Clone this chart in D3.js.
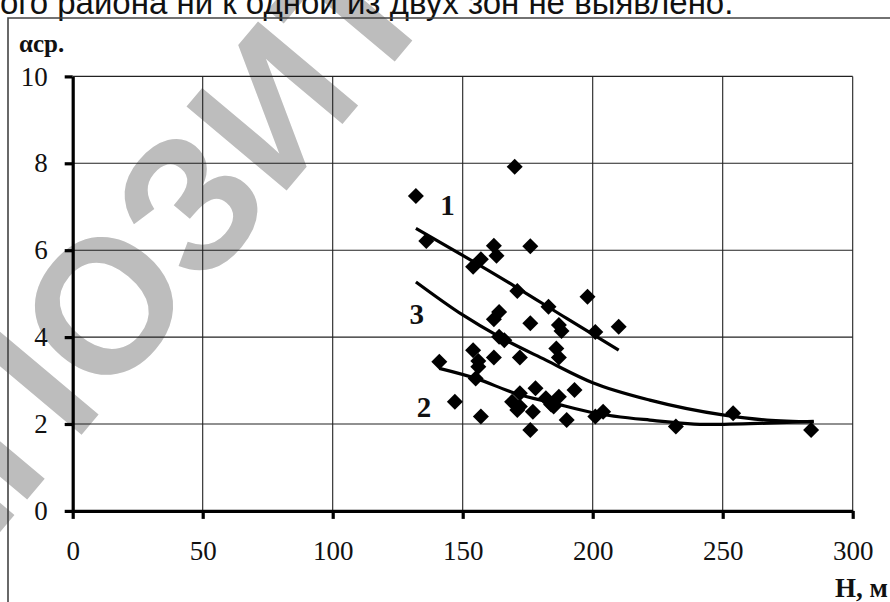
<!DOCTYPE html>
<html>
<head>
<meta charset="utf-8">
<script src="https://cdn.jsdelivr.net/npm/d3@7/dist/d3.min.js"></script>
<style>
body { margin: 0; background: #fff; }
svg { display: block; }
</style>
</head>
<body>
<div id="plot"></div>
<script>
var w = 890;
var h = 602;

// measured points: depth H (m) and alpha
var pointH = [132, 170, 136, 162, 163, 176, 157, 154, 171, 198,
              183, 164, 162, 176, 187, 188, 201, 210, 164, 166,
              186, 187, 172, 162, 154, 156, 141, 155, 147, 157,
              172, 178, 169, 171, 177, 182, 187, 185, 193, 190,
              176, 204, 201, 232, 254, 284, 172, 184, 156];
var pointA = [7.25, 7.92, 6.21, 6.10, 5.87, 6.09, 5.79, 5.62, 5.06, 4.93,
              4.70, 4.58, 4.41, 4.32, 4.28, 4.14, 4.12, 4.24, 4.01, 3.93,
              3.74, 3.53, 3.53, 3.53, 3.70, 3.45, 3.43, 3.05, 2.51, 2.17,
              2.71, 2.82, 2.51, 2.32, 2.28, 2.59, 2.63, 2.40, 2.78, 2.09,
              1.86, 2.28, 2.17, 1.94, 2.25, 1.86, 2.40, 2.45, 3.32];

// trend lines
var curve1H = [132, 150, 170, 190, 210];
var curve1A = [6.50, 5.88, 5.17, 4.43, 3.70];
var curve2H = [141, 155, 170, 185, 200, 222, 245, 267, 285];
var curve2A = [3.28, 3.05, 2.71, 2.48, 2.26, 2.09, 1.99, 2.02, 2.06];
var curve3H = [132, 150, 164, 182, 200, 222, 250, 267, 285];
var curve3A = [5.27, 4.51, 4.01, 3.47, 2.95, 2.55, 2.21, 2.09, 2.05];

var curveNames = ["1", "2", "3"];
var labelH = [144.2, 135.1, 132.3];
var labelA = [7.04, 2.39, 4.54];

var xTicks = [0, 50, 100, 150, 200, 250, 300];
var yTicks = [0, 2, 4, 6, 8, 10];

var xScale = d3.scaleLinear()
	.domain([0, 300])
	.range([72.7, 852.7]);

var yScale = d3.scaleLinear()
	.domain([0, 10])
	.range([510.9, 76.4]);

var serif = "'Liberation Serif', 'Times New Roman', serif";

var svg = d3.select("#plot").append("svg").attr("width", w).attr("height", h);

svg.append("rect")
	.attr("width", w)
	.attr("height", h)
	.attr("fill", "#fff");

// watermark
var wmSize = 190;
var wm = svg.append("text")
	.text("РЕПОЗИТОРИЙ")
	.attr("font-family", "'Liberation Sans', Arial, sans-serif")
	.attr("font-weight", "bold")
	.attr("font-size", wmSize)
	.attr("letter-spacing", 0)
	.attr("fill", "#bdbdbd");
var ext = wm.node().getExtentOfChar(3);
var cx = ext.x + ext.width / 2;
var cy = -0.36 * wmSize;
wm.attr("transform", "translate(102,304) rotate(-50) translate(" + (-cx) + "," + (-cy) + ")");

// cut text line of the page above the figure
svg.append("text")
	.attr("x", 0)
	.attr("y", 14)
	.attr("font-family", "'Liberation Sans', Arial, sans-serif")
	.attr("font-size", 33)
	.attr("fill", "#111")
	.text("ого района ни к одной из двух зон не выявлено.");

// frame
svg.append("path")
	.attr("d", "M8," + h + "V18H" + w)
	.attr("fill", "none")
	.attr("stroke", "#444")
	.attr("stroke-width", 1.6);

// grid
svg.selectAll(".hgrid")
	.data(yTicks.slice(1))
	.enter()
	.append("line")
	.attr("class", "hgrid")
	.attr("x1", xScale(0))
	.attr("x2", xScale(300))
	.attr("y1", function(d) { return yScale(d); })
	.attr("y2", function(d) { return yScale(d); })
	.attr("stroke", "#222")
	.attr("stroke-width", 1.1);

svg.selectAll(".vgrid")
	.data(xTicks.slice(1))
	.enter()
	.append("line")
	.attr("class", "vgrid")
	.attr("y1", yScale(0))
	.attr("y2", yScale(10))
	.attr("x1", function(d) { return xScale(d); })
	.attr("x2", function(d) { return xScale(d); })
	.attr("stroke", "#222")
	.attr("stroke-width", 1.1);

// axes
var xAxis = d3.axisBottom(xScale).tickValues(xTicks).tickSize(8).tickSizeOuter(0).tickPadding(22);
var yAxis = d3.axisLeft(yScale).tickValues(yTicks).tickSize(8).tickSizeOuter(0).tickPadding(17);

var gx = svg.append("g")
	.attr("transform", "translate(0," + yScale(0) + ")")
	.call(xAxis);
var gy = svg.append("g")
	.attr("transform", "translate(" + xScale(0) + ",0)")
	.call(yAxis);

[gx, gy].forEach(function(g) {
	g.select(".domain").attr("stroke", "#000").attr("stroke-width", 3.2);
	g.selectAll(".tick line").attr("stroke", "#000").attr("stroke-width", 3.2);
	g.selectAll(".tick text")
		.attr("font-family", serif)
		.attr("font-size", 27)
		.attr("fill", "#111");
});

// trend lines
var line = d3.line()
	.x(function(d) { return xScale(d[0]); })
	.y(function(d) { return yScale(d[1]); })
	.curve(d3.curveMonotoneX);

var curves = [d3.zip(curve1H, curve1A), d3.zip(curve2H, curve2A), d3.zip(curve3H, curve3A)];

svg.selectAll(".trend")
	.data(curves)
	.enter()
	.append("path")
	.attr("class", "trend")
	.attr("d", line)
	.attr("fill", "none")
	.attr("stroke", "#000")
	.attr("stroke-width", 3.2);

// points
var diamond = d3.symbol().type(d3.symbolSquare).size(128);

svg.selectAll(".pt")
	.data(d3.zip(pointH, pointA))
	.enter()
	.append("path")
	.attr("class", "pt")
	.attr("d", diamond)
	.attr("transform", function(d) {
		return "translate(" + xScale(d[0]) + "," + yScale(d[1]) + ") rotate(45)";
	})
	.attr("fill", "#000");

// curve numbers
svg.selectAll(".cname")
	.data(curveNames)
	.enter()
	.append("text")
	.attr("class", "cname")
	.attr("x", function(d, i) { return xScale(labelH[i]); })
	.attr("y", function(d, i) { return yScale(labelA[i]); })
	.attr("dy", "0.35em")
	.attr("text-anchor", "middle")
	.attr("font-family", serif)
	.attr("font-weight", "bold")
	.attr("font-size", 29)
	.attr("fill", "#111")
	.text(function(d) { return d; });

// axis titles
svg.append("text")
	.attr("x", 19)
	.attr("y", 52)
	.attr("font-family", serif)
	.attr("font-weight", "bold")
	.attr("font-size", 25)
	.attr("fill", "#111")
	.text("αср.");

svg.append("text")
	.attr("x", 888)
	.attr("y", 597)
	.attr("text-anchor", "end")
	.attr("font-family", serif)
	.attr("font-weight", "bold")
	.attr("font-size", 27)
	.attr("fill", "#111")
	.text("H, м");
</script>
</body>
</html>
